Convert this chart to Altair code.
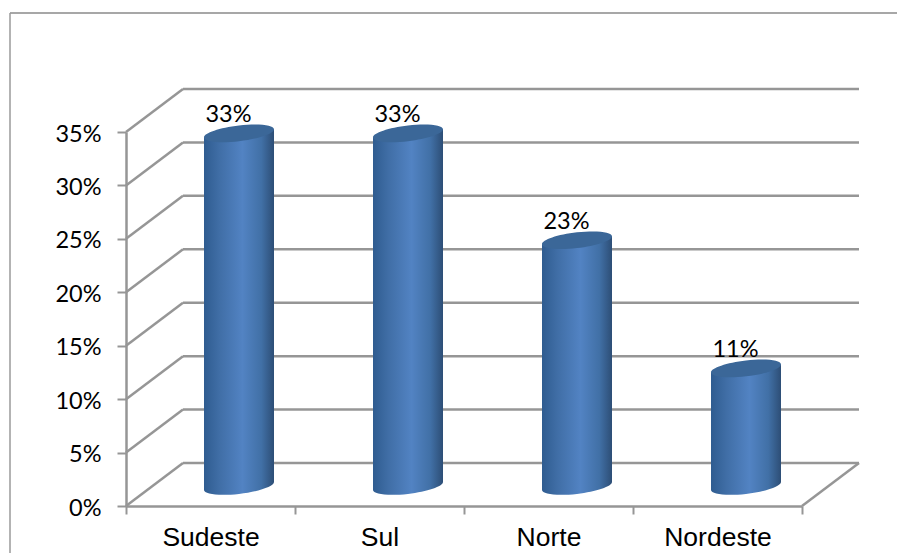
import json

import altair as alt
import pandas as pd

# Chart values
regions = ["Sudeste", "Sul", "Norte", "Nordeste"]
shares = [33, 33, 23, 11]
tick_values = [0, 5, 10, 15, 20, 25, 30, 35]

# Layout of the pseudo-3D box, in pixels
CANVAS_W, CANVAS_H = 897, 553
PLOT_W, PLOT_H = 676, 374
LEFT, TOP = 126, 132
DEPTH_X, DEPTH_Y = 57, 43
BAR_W = 70
BAR_DX, BAR_DY = 28.5, -20
TILT = 0.115  # rise of the cylinder rim across its half width
LINE = "#969696"
Y_MAX = 35


def tilted_ellipse(slope, minor):
    """Unit circle sheared into a tilted ellipse, as an SVG path."""
    k = 0.5523
    def p(c, s):
        return f"{c:.4f},{minor * s + slope * c:.4f}"
    return (
        f"M{p(1, 0)}"
        f"C{p(1, k)} {p(k, 1)} {p(0, 1)}"
        f"C{p(-k, 1)} {p(-1, k)} {p(-1, 0)}"
        f"C{p(-1, -k)} {p(-k, -1)} {p(0, -1)}"
        f"C{p(k, -1)} {p(1, -k)} {p(1, 0)}Z"
    )


CAP = tilted_ellipse(-TILT, 0.225)

side_fill = alt.Gradient(
    gradient="linear", x1=0, x2=1, y1=0, y2=0,
    stops=[
        alt.GradientStop(offset=0, color="#2f5c90"),
        alt.GradientStop(offset=0.22, color="#406ea6"),
        alt.GradientStop(offset=0.55, color="#5283c3"),
        alt.GradientStop(offset=0.82, color="#4170a6"),
        alt.GradientStop(offset=1, color="#2d4e76"),
    ],
)

bars = pd.DataFrame({
    "pos": [i + 0.5 for i in range(len(regions))],
    "share": shares,
    "floor": [0] * len(regions),
})
ticks = pd.DataFrame({"p": tick_values})

# Each cylinder side is a small area: its two vertical edges sit on the tilted rims.
half_w = BAR_W / 2 / (PLOT_W / len(regions))
rim = TILT * BAR_W / 2 * (Y_MAX / PLOT_H)
sides = pd.DataFrame(
    [
        {
            "region": name,
            "u": i + 0.5 + sign * half_w,
            "top": value + sign * rim,
            "bottom": sign * rim,
        }
        for i, (name, value) in enumerate(zip(regions, shares))
        for sign in (-1, 1)
    ]
)

# Numeric category axis: ticks on the whole numbers, names on the halves
x_axis = alt.Axis(
    values=[v / 2 for v in range(2 * len(regions) + 1)],
    labelExpr=f"datum.value % 1 ? {json.dumps(regions)}[floor(datum.value)] : ''",
    tickOpacity=alt.expr("datum.value % 1 ? 0 : 1"),
    labelAngle=0, labelFont="Liberation Sans", labelFontSize=26.5, labelColor="#000000",
    labelPadding=10, labelOverlap=False, labelFlush=False,
    tickColor=LINE, tickWidth=2, tickSize=8,
    domainColor=LINE, domainWidth=2.5, grid=False,
)
x_scale = alt.Scale(domain=[0, len(regions)], nice=False, zero=False)
y_axis = alt.Axis(
    values=tick_values, format=".0f", labelExpr="datum.label + '%'",
    labelFont="Lato", labelFontSize=23.5, labelColor="#000000", labelPadding=16, labelOffset=2,
    tickColor=LINE, tickWidth=2, tickSize=9,
    domainColor=LINE, domainWidth=2.5, grid=False,
)
y_scale = alt.Scale(domain=[0, Y_MAX], nice=False)


def xq(field):
    return alt.X(field, scale=x_scale, axis=x_axis, title=None)


def yq(field):
    return alt.Y(field, scale=y_scale, axis=y_axis, title=None)


# Outer frame: only its top and left edges fall inside the canvas
frame_top = alt.Chart(pd.DataFrame({"k": [0]})).mark_rule(color="#8a8a8a", strokeWidth=1.5).encode(
    x=alt.value(10 - LEFT), x2=alt.value(CANVAS_W - LEFT), y=alt.value(13 - TOP),
)
frame_left = alt.Chart(pd.DataFrame({"k": [0]})).mark_rule(color="#9a9a9a", strokeWidth=1.5).encode(
    x=alt.value(10 - LEFT), y=alt.value(13 - TOP), y2=alt.value(CANVAS_H - TOP),
)

# Left wall: one slanted line per tick
slants = alt.Chart(ticks).mark_rule(
    color=LINE, strokeWidth=2.5, y2Offset=-DEPTH_Y
).encode(x=alt.value(0), x2=alt.value(DEPTH_X), y=yq("p:Q"), y2="p:Q")

# Back wall: horizontal gridlines
back = alt.Chart(ticks).mark_rule(
    color=LINE, strokeWidth=2.5, yOffset=-DEPTH_Y, y2Offset=-DEPTH_Y
).encode(x=alt.value(DEPTH_X), x2=alt.value(PLOT_W + DEPTH_X), y=yq("p:Q"), y2="p:Q")

# Right edge of the floor
floor = alt.Chart(pd.DataFrame({"p": [0]})).mark_rule(
    color=LINE, strokeWidth=2.5, y2Offset=-DEPTH_Y
).encode(x=alt.value(PLOT_W), x2=alt.value(PLOT_W + DEPTH_X), y=yq("p:Q"), y2="p:Q")

# Cylinder bases
bottom_cap = alt.Chart(bars).mark_point(
    shape=CAP, size=BAR_W ** 2, filled=True, fill=side_fill, opacity=1,
    xOffset=BAR_DX, yOffset=BAR_DY,
).encode(x=xq("pos:Q"), y=yq("floor:Q"))

# Cylinder sides
side = alt.Chart(sides).mark_area(
    fill=side_fill, xOffset=BAR_DX, yOffset=BAR_DY, y2Offset=BAR_DY, opacity=1,
).encode(x=xq("u:Q"), y=yq("top:Q"), y2="bottom:Q", detail="region:N")

# Cylinder tops
top_cap = alt.Chart(bars).mark_point(
    shape=CAP, size=BAR_W ** 2, filled=True, fill="#3b6798", opacity=1,
    xOffset=BAR_DX, yOffset=BAR_DY,
).encode(x=xq("pos:Q"), y=yq("share:Q"))

# Value labels above each cylinder
labels = alt.Chart(bars).transform_calculate(txt="datum.share + '%'").mark_text(
    font="Lato", fontSize=23.5, color="#000000", baseline="alphabetic",
    dx=18, dy=-31,
).encode(x=xq("pos:Q"), y=yq("share:Q"), text="txt:N")

chart = alt.layer(
    frame_top, frame_left, slants, back, floor, side, bottom_cap, top_cap, labels,
).properties(
    width=PLOT_W, height=PLOT_H,
    padding={
        "left": LEFT, "top": TOP,
        "right": CANVAS_W - LEFT - PLOT_W, "bottom": CANVAS_H - TOP - PLOT_H,
    },
    autosize=alt.AutoSizeParams(type="none"),
    background="#ffffff",
).configure_view(stroke=None)

chart.save("out.html", embed_options={"renderer": "svg", "actions": False})
